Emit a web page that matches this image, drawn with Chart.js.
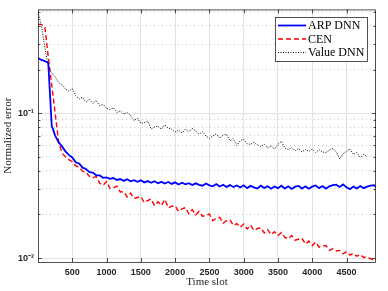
<!DOCTYPE html>
<html>
<head>
<meta charset="utf-8">
<script src="https://cdn.jsdelivr.net/npm/chart.js@4.4.0/dist/chart.umd.min.js"></script>
<style>
  html, body { margin: 0; padding: 0; background: #fff; }
  #wrap { width: 388px; height: 291px; }
</style>
</head>
<body>
<div id="wrap"><canvas id="chart"></canvas></div>
<script>
// time slots (x values)
const slots = [
  0, 50, 100, 150, 200, 250, 300, 350, 400, 450,
  500, 550, 600, 650, 700, 750, 800, 850, 900, 950,
  1000, 1050, 1100, 1150, 1200, 1250, 1300, 1350, 1400, 1450,
  1500, 1550, 1600, 1650, 1700, 1750, 1800, 1850, 1900, 1950,
  2000, 2050, 2100, 2150, 2200, 2250, 2300, 2350, 2400, 2450,
  2500, 2550, 2600, 2650, 2700, 2750, 2800, 2850, 2900, 2950,
  3000, 3050, 3100, 3150, 3200, 3250, 3300, 3350, 3400, 3450,
  3500, 3550, 3600, 3650, 3700, 3750, 3800, 3850, 3900, 3950,
  4000, 4050, 4100, 4150, 4200, 4250, 4300, 4350, 4400, 4450,
  4500, 4550, 4600, 4650, 4700, 4750, 4800, 4850, 4900, 4930
];

const arpDnn = [
  0.240, 0.233, 0.229, 0.222, 0.082, 0.070, 0.063, 0.059, 0.0545, 0.0515,
  0.0495, 0.0458, 0.0450, 0.0421, 0.0412, 0.0392, 0.0389, 0.0373, 0.0372, 0.0358,
  0.0360, 0.0352, 0.0357, 0.0346, 0.0351, 0.0341, 0.0350, 0.0339, 0.0345, 0.0336,
  0.0344, 0.0333, 0.0340, 0.0331, 0.0339, 0.0328, 0.0336, 0.0327, 0.0335, 0.0325,
  0.0333, 0.0322, 0.0331, 0.0323, 0.0329, 0.0319, 0.0328, 0.0320, 0.0316, 0.0327,
  0.0318, 0.0313, 0.0324, 0.0312, 0.0321, 0.0310, 0.0319, 0.0309, 0.0317, 0.0307,
  0.0318, 0.0304, 0.0315, 0.0308, 0.0302, 0.0316, 0.0305, 0.0313, 0.0301, 0.0312,
  0.0304, 0.0316, 0.0302, 0.0313, 0.0300, 0.0311, 0.0315, 0.0302, 0.0313, 0.0301,
  0.0311, 0.0317, 0.0304, 0.0314, 0.0302, 0.0313, 0.0319, 0.0321, 0.0310, 0.0322,
  0.0308, 0.0299, 0.0312, 0.0302, 0.0314, 0.0304, 0.0311, 0.0316, 0.0319, 0.0310
];

const cen = [
  0.410, 0.410, 0.395, 0.245, 0.157, 0.100, 0.064, 0.053, 0.050, 0.0478,
  0.0462, 0.0432, 0.0425, 0.0398, 0.0392, 0.0366, 0.0358, 0.0366, 0.0328, 0.0318,
  0.0338, 0.0302, 0.0306, 0.0314, 0.0286, 0.0287, 0.0264, 0.0281, 0.0258, 0.0262,
  0.0266, 0.0242, 0.0249, 0.0256, 0.0230, 0.0245, 0.0231, 0.0254, 0.0222, 0.0228,
  0.0230, 0.0210, 0.0219, 0.0223, 0.0202, 0.0216, 0.0199, 0.0210, 0.0194, 0.0198,
  0.0201, 0.0181, 0.0188, 0.0191, 0.0174, 0.0181, 0.0184, 0.0168, 0.0173, 0.0163,
  0.0172, 0.0159, 0.0169, 0.0155, 0.0160, 0.0162, 0.0149, 0.0157, 0.0145, 0.0152,
  0.0143, 0.0150, 0.0139, 0.0136, 0.0143, 0.0133, 0.0135, 0.0137, 0.0125, 0.0131,
  0.0122, 0.0129, 0.0119, 0.0121, 0.0122, 0.0113, 0.0116, 0.0112, 0.0113, 0.0107,
  0.0111, 0.0105, 0.0108, 0.0103, 0.0106, 0.0101, 0.0102, 0.0099, 0.0097, 0.0098
];

const valueDnn = [
  0.500, 0.400, 0.285, 0.210, 0.190, 0.178, 0.163, 0.156, 0.147, 0.142,
  0.148, 0.132, 0.125, 0.129, 0.119, 0.125, 0.117, 0.122, 0.113, 0.115,
  0.108, 0.106, 0.109, 0.101, 0.104, 0.0985, 0.1010, 0.0965, 0.0890, 0.0925,
  0.0850, 0.0860, 0.0880, 0.0780, 0.0800, 0.0815, 0.0775, 0.0830, 0.0790, 0.0775,
  0.0740, 0.0765, 0.0730, 0.0775, 0.0745, 0.0785, 0.0755, 0.0715, 0.0745, 0.0695,
  0.0670, 0.0695, 0.0720, 0.0675, 0.0705, 0.0715, 0.0645, 0.0665, 0.0600, 0.0645,
  0.0660, 0.0615, 0.0610, 0.0630, 0.0605, 0.0590, 0.0610, 0.0575, 0.0595, 0.0565,
  0.0610, 0.0640, 0.0575, 0.0560, 0.0580, 0.0550, 0.0570, 0.0540, 0.0562, 0.0545,
  0.0565, 0.0535, 0.0560, 0.0540, 0.0533, 0.0556, 0.0570, 0.0540, 0.0485, 0.0525,
  0.0545, 0.0565, 0.0520, 0.0535, 0.0495, 0.0520, 0.0500, null, null, null
];

const xTicks = [500, 1000, 1500, 2000, 2500, 3000, 3500, 4000, 4500];
const yTicks = [0.01, 0.02, 0.03, 0.04, 0.05, 0.06, 0.07, 0.08, 0.09,
                0.1, 0.2, 0.3, 0.4, 0.5];
const yLabels = { 0.01: '10\u207B\u00B2', 0.1: '10\u207B\u00B9' };

const seriesNames = ['ARP DNN', 'CEN', 'Value DNN'];

const axisColor = '#262626';
const serif = "'Liberation Serif', 'Times New Roman', serif";
const sans = "'Liberation Sans', Arial, sans-serif";

function pts(arr) {
  return slots.map((t, i) => ({ x: t, y: arr[i] }));
}
function isMajor(v) { return v === 0.1 || v === 0.01; }

// box, inward ticks and legend like a matlab figure
const matlabFrame = {
  id: 'matlabFrame',
  afterDraw(chart) {
    const { ctx, chartArea: a, scales } = chart;
    ctx.save();
    ctx.strokeStyle = axisColor;
    ctx.lineWidth = 0.8;
    ctx.beginPath();
    scales.y.ticks.forEach(t => {
      const py = Math.round(scales.y.getPixelForValue(t.value)) + 0.5;
      const len = isMajor(t.value) ? 4 : 2.5;
      ctx.moveTo(a.left, py); ctx.lineTo(a.left + len, py);
      ctx.moveTo(a.right, py); ctx.lineTo(a.right - len, py);
    });
    scales.x.ticks.forEach(t => {
      const px = Math.round(scales.x.getPixelForValue(t.value)) + 0.5;
      ctx.moveTo(px, a.bottom); ctx.lineTo(px, a.bottom - 4);
      ctx.moveTo(px, a.top); ctx.lineTo(px, a.top + 4);
    });
    ctx.stroke();
    ctx.strokeRect(a.left + 0.5, a.top + 0.5, a.right - a.left - 1, a.bottom - a.top);

    // legend
    const lx = 275, ly = 17, lw = 92, lh = 44;
    ctx.fillStyle = '#fff';
    ctx.fillRect(lx, ly, lw, lh);
    ctx.strokeRect(lx + 0.5, ly + 0.5, lw, lh);
    ctx.font = '12px ' + serif;
    ctx.textBaseline = 'middle';
    chart.data.datasets.forEach((ds, i) => {
      const ry = ly + 8.5 + i * 13.5;
      ctx.save();
      ctx.strokeStyle = ds.borderColor;
      ctx.lineWidth = ds.borderWidth;
      ctx.setLineDash(ds.borderDash || []);
      ctx.beginPath();
      ctx.moveTo(lx + 3, ry); ctx.lineTo(lx + 31, ry);
      ctx.stroke();
      ctx.restore();
      ctx.fillStyle = '#000';
      ctx.fillText(ds.label, lx + 33, ry + 0.5);
    });
    ctx.restore();
  }
};

new Chart(document.getElementById('chart'), {
  type: 'line',
  data: {
    datasets: [
      {
        label: seriesNames[0],
        data: pts(arpDnn),
        borderColor: '#0000ff',
        borderWidth: 1.8,
        pointRadius: 0,
        tension: 0
      },
      {
        label: seriesNames[1],
        data: pts(cen),
        borderColor: '#ff0000',
        borderWidth: 1.4,
        borderDash: [5, 3],
        pointRadius: 0,
        tension: 0
      },
      {
        label: seriesNames[2],
        data: pts(valueDnn),
        borderColor: '#000000',
        borderWidth: 1,
        borderDash: [1, 1.5],
        pointRadius: 0,
        tension: 0
      }
    ]
  },
  options: {
    responsive: true,
    maintainAspectRatio: false,
    animation: false,
    layout: { padding: { top: 9, right: 12, left: 0, bottom: 0 } },
    plugins: {
      legend: { display: false },
      tooltip: { enabled: false }
    },
    scales: {
      x: {
        type: 'linear',
        min: 0,
        max: 4930,
        afterBuildTicks: s => { s.ticks = xTicks.map(v => ({ value: v })); },
        afterFit: s => { s.height = 29; },
        grid: { color: '#e3e3e3', lineWidth: 1, drawTicks: false },
        border: { display: false },
        ticks: {
          autoSkip: false,
          maxRotation: 0,
          padding: 5,
          color: axisColor,
          font: { family: sans, size: 9, weight: 'bold' },
          callback: v => String(v)
        },
        title: {
          display: true,
          text: 'Time slot',
          color: axisColor,
          font: { family: serif, size: 11 },
          padding: { top: 0, bottom: 2 }
        }
      },
      y: {
        type: 'logarithmic',
        min: 0.0094,
        max: 0.52,
        afterBuildTicks: s => { s.ticks = yTicks.map(v => ({ value: v })); },
        afterFit: s => { s.width = 38; },
        grid: {
          color: c => (c.tick && isMajor(c.tick.value)) ? '#e3e3e3' : '#c4c4c4',
          lineWidth: 1,
          drawTicks: false
        },
        border: {
          display: false,
          dash: c => (c.tick && !isMajor(c.tick.value)) ? [1, 3] : []
        },
        ticks: {
          autoSkip: false,
          padding: 4,
          color: axisColor,
          font: { family: sans, size: 9, weight: 'bold' },
          callback: v => yLabels[v] || ''
        },
        title: {
          display: true,
          text: 'Normalized error',
          color: axisColor,
          font: { family: serif, size: 11 },
          padding: { top: 2, bottom: 0 }
        }
      }
    }
  },
  plugins: [matlabFrame]
});
</script>
</body>
</html>
